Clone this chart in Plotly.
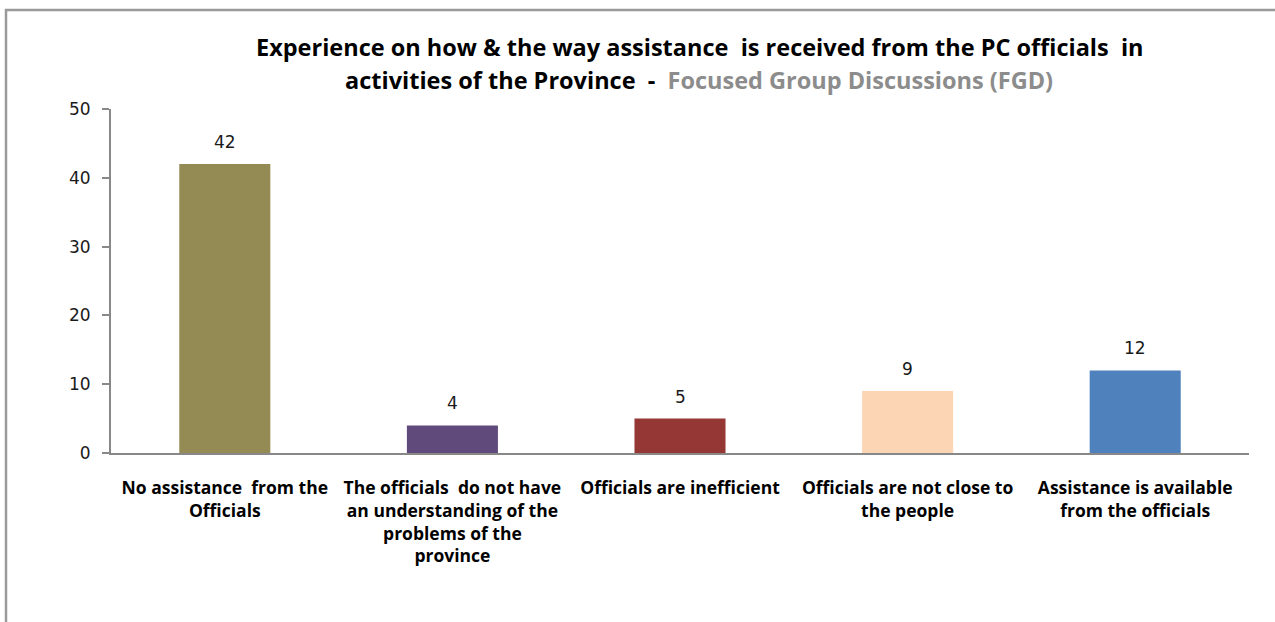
import plotly.graph_objects as go

# Survey categories and counts
categories = [
    "No assistance  from the<br>Officials",
    "The officials  do not have<br>an understanding of the<br>problems of the<br>province",
    "Officials are inefficient",
    "Officials are not close to<br>the people",
    "Assistance is available<br>from the officials",
]
counts = [42, 4, 5, 9, 12]
bar_colors = ["#948A54", "#604A7B", "#953735", "#FCD5B5", "#4F81BD"]
y_ticks = [0, 10, 20, 30, 40, 50]

title_line1 = "Experience on how &amp; the way assistance  is received from the PC officials  in"
title_line2 = ("activities of the Province  -  "
               "<span style='color:#8C8C8C'>Focused Group Discussions (FGD)</span>")

W, H = 1275, 622
L, R, T, B = 111, 26, 109, 169

LABEL_FONT = "'Open Sans', Lato, sans-serif"
NUM_FONT = "'DejaVu Sans', Verdana, sans-serif"

fig = go.Figure(
    go.Bar(
        x=categories,
        y=counts,
        marker=dict(color=bar_colors, line=dict(width=0)),
        width=0.4,
        hoverinfo="skip",
    )
)

# value labels above each bar
for cat, v in zip(categories, counts):
    fig.add_annotation(
        x=cat, y=v, xref="x", yref="y",
        text=str(v), showarrow=False,
        yanchor="bottom", yshift=10,
        font=dict(family=NUM_FONT, size=17, color="#1a1a1a"),
    )

plot_w = W - L - R
plot_h = H - T - B


def px_x(px):
    return (px - L) / plot_w


def px_y(py):
    return (H - B - py) / plot_h


# two-line title
fig.add_annotation(
    x=px_x(700), y=px_y(47), xref="paper", yref="paper",
    text="<b>" + title_line1 + "</b>", showarrow=False,
    xanchor="center", yanchor="middle",
    font=dict(family=LABEL_FONT, size=23.5, color="#000000"),
)
fig.add_annotation(
    x=px_x(699), y=px_y(80), xref="paper", yref="paper",
    text="<b>" + title_line2 + "</b>", showarrow=False,
    xanchor="center", yanchor="middle",
    font=dict(family=LABEL_FONT, size=23.5, color="#000000"),
)

# outer chart frame
fig.add_shape(
    type="rect", xref="paper", yref="paper",
    x0=px_x(6), x1=px_x(1290), y0=px_y(640), y1=px_y(10),
    line=dict(color="#9A9A9A", width=2.5),
    fillcolor="rgba(0,0,0,0)", layer="below",
)

fig.update_layout(
    width=W, height=H,
    margin=dict(l=L, r=R, t=T, b=B, pad=0),
    paper_bgcolor="white",
    plot_bgcolor="white",
    showlegend=False,
    bargap=0.6,
)
fig.update_xaxes(
    showline=True, linecolor="#888888", linewidth=2,
    showgrid=False, ticks="",
    tickfont=dict(family=LABEL_FONT, size=17.5, color="#000000", weight="bold"),
    ticklabelstandoff=18,
    tickangle=0,
)
fig.update_yaxes(
    range=[0, 50], tickvals=y_ticks,
    showline=True, linecolor="#888888", linewidth=2,
    showgrid=False, zeroline=False,
    ticks="outside", ticklen=7, tickcolor="#888888", tickwidth=2,
    tickfont=dict(family=NUM_FONT, size=17, color="#1a1a1a"),
    ticklabelstandoff=8,
)

fig.write_html("out.html")
